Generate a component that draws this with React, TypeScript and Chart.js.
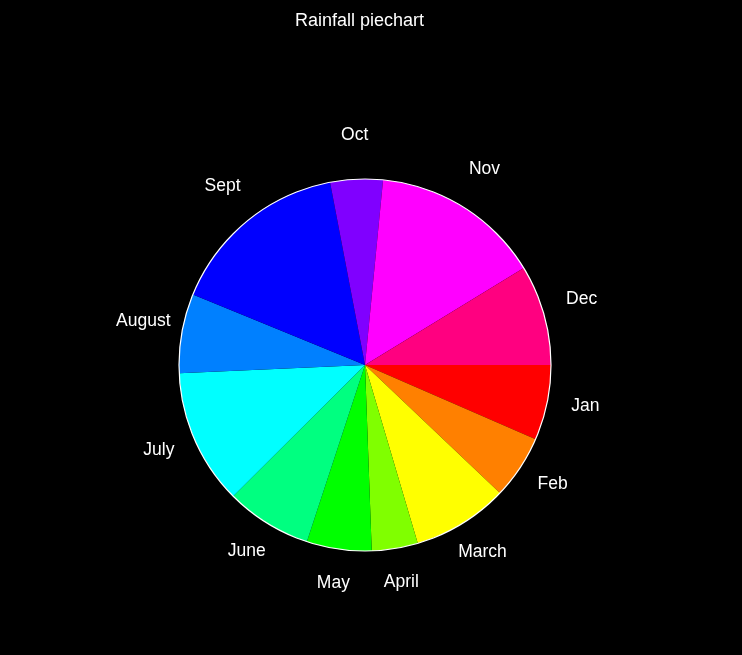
import React, { useEffect, useRef } from "react";
import { Chart, registerables } from "chart.js";

Chart.register(...registerables);

const months = ["Jan", "Feb", "March", "April", "May", "June", "July", "August", "Sept", "Oct", "Nov", "Dec"];
const rainfall = [23.5, 20, 30, 14.4, 20.3, 26.9, 42.3, 24.8, 56.9, 16.4, 53, 31.4];
const colors = [
  "#FF0000", "#FF8000", "#FFFF00", "#80FF00", "#00FF00", "#00FF80",
  "#00FFFF", "#0080FF", "#0000FF", "#8000FF", "#FF00FF", "#FF0080",
];
const chartTitle = "Rainfall piechart";

const W = 742;
const H = 655;
const CX = 365;
const CY = 365;
const R = 186;
const LABEL_DIST = 1.21;
const LABEL_DY = -5;

const piePlugin = {
  id: "rpie",
  beforeDraw(chart: any) {
    const ctx = chart.ctx;
    ctx.save();
    ctx.fillStyle = "#000";
    ctx.fillRect(0, 0, chart.width, chart.height);
    ctx.restore();
  },
  afterDatasetsDraw(chart: any) {
    const ctx = chart.ctx;
    const meta = chart.getDatasetMeta(0);
    const arcs = meta.data;
    if (!arcs.length) return;
    const first = arcs[0];
    const cx = first.x;
    const cy = first.y;
    const r = first.outerRadius;
    ctx.save();
    ctx.strokeStyle = "#fff";
    ctx.lineWidth = 1.2;
    ctx.beginPath();
    ctx.arc(cx, cy, r, 0, Math.PI * 2);
    ctx.stroke();
    ctx.fillStyle = "#fff";
    ctx.font = '17.5px "Liberation Sans", Arial, sans-serif';
    ctx.textBaseline = "middle";
    ctx.textAlign = "center";
    arcs.forEach((a: any, i: number) => {
      const mid = (a.startAngle + a.endAngle) / 2;
      const x = cx + LABEL_DIST * r * Math.cos(mid);
      const y = cy + LABEL_DIST * r * Math.sin(mid) + LABEL_DY;
      ctx.fillText(months[i], x, y);
    });
    ctx.font = '18px "Liberation Sans", Arial, sans-serif';
    ctx.fillText(chartTitle, 359.5, 21);
    ctx.restore();
  },
};

export default function App() {
  const ref = useRef<HTMLCanvasElement | null>(null);
  useEffect(() => {
    document.body.style.background = "#000";
    const canvas = ref.current!;
    const chart = new Chart(canvas, {
      type: "pie",
      data: {
        labels: months,
        datasets: [
          {
            data: rainfall,
            backgroundColor: colors,
            borderWidth: 0,
          },
        ],
      },
      options: {
        responsive: false,
        animation: false,
        devicePixelRatio: 1,
        rotation: 90,
        radius: R,
        layout: {
          padding: { left: CX - R, top: CY - R, right: W - (CX + R), bottom: H - (CY + R) },
        },
        plugins: {
          legend: { display: false },
          tooltip: { enabled: false },
          title: { display: false },
        },
      },
      plugins: [piePlugin],
    });
    return () => chart.destroy();
  }, []);
  return (
    <canvas
      ref={ref}
      width={W}
      height={H}
      style={{ position: "absolute", left: 0, top: 0, width: W, height: H, display: "block" }}
    />
  );
}
